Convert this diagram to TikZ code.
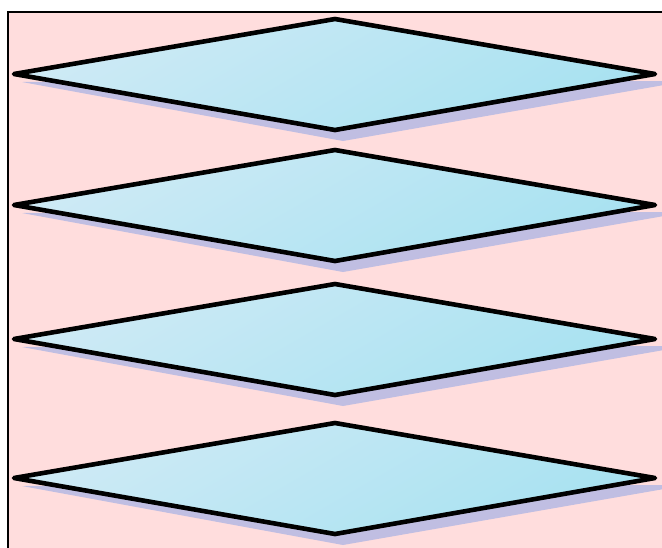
\documentclass[tikz,border=0pt]{standalone}
\begin{document}
\begin{tikzpicture}[x=1pt,y=-1pt,
  shadowfill/.style={fill={rgb,255:red,192;green,190;blue,226}},
  diam/.style={draw=black,line width=4.6pt,line join=round,
    top color={rgb,255:red,206;green,234;blue,245},
    bottom color={rgb,255:red,168;green,226;blue,241},
    shading angle=30}]
\useasboundingbox (0,0) rectangle (662,547);
\fill[white] (0,0) rectangle (662,547);
\fill[fill={rgb,255:red,255;green,221;blue,221}] (8,12) rectangle (664,549);
\draw[line width=2pt] (8,549) -- (8,12) -- (664,12);
\foreach \yc in {74,205,339,478}{
  \fill[shadowfill] (22,\yc+8) -- (343,\yc+7) -- (664,\yc+7) -- (664,\yc+11) -- (343,\yc+67) -- cycle;
  \path[diam] (14,\yc) -- (335,\yc-55) -- (655,\yc) -- (335,\yc+56) -- cycle;
}
\end{tikzpicture}
\end{document}
